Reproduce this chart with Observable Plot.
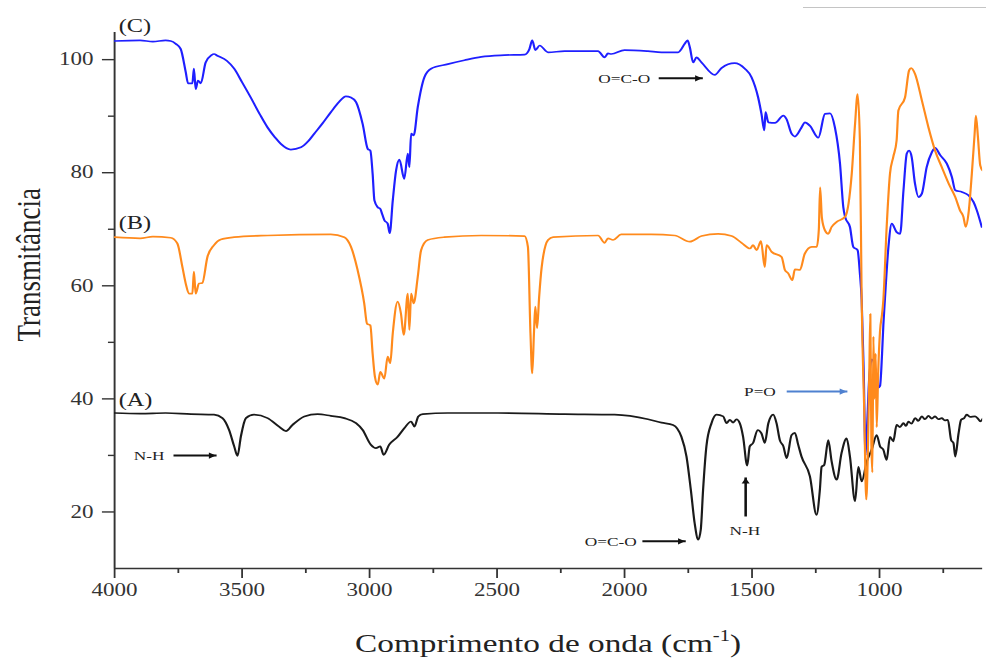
<!DOCTYPE html>
<html>
<head>
<meta charset="utf-8">
<script src="https://cdn.jsdelivr.net/npm/d3@7"></script>
<script src="https://cdn.jsdelivr.net/npm/@observablehq/plot@0.6"></script>
<style>
html, body { margin: 0; padding: 0; background: #fff; }
#chart { position: relative; width: 986px; height: 659px; overflow: hidden; }
#chart svg { position: absolute; left: 0; top: 0; transform-origin: 0 0; }
#edge { position: absolute; left: 803px; top: 7px; width: 183px; border-top: 1px solid #c4c4c4; }
</style>
</head>
<body>
<div id="chart"><div id="edge"></div></div>
<script>
// ---------- Spectrum (A) : black ----------
const waveA = [4000,3900,3800,3700,3610,3577,3551,3531,3518,3505,3485,3453,3400,3355,3328,3302,3256,3204,3152,3099,3053,3027,2995,2975,2958,2945,2923,2890,2864,2837,2824,2809,2791,2693,2497,2235,2039,1908,1855,1810,1777,1757,1740,1725,1711,1701,1692,1679,1659,1639,1613,1600,1587,1574,1561,1548,1535,1519,1509,1496,1478,1463,1450,1436,1417,1404,1391,1377,1364,1345,1332,1319,1306,1273,1247,1234,1227,1217,1201,1188,1168,1149,1129,1116,1096,1083,1070,1050,1031,1011,998,985,972,959,946,933,920,906,896,887,875,860,848,834,822,808,795,782,769,756,744,732,719,710,703,690,680,668,658,645,625,612,605,595];
const transA = [37.5,37.4,37.5,37.3,37.2,36.6,34.5,31.6,29.9,33.3,36.6,37.2,36.6,35.1,34.3,35.4,36.9,37.3,37.0,36.6,35.7,34.5,31.9,31.3,31.6,30.1,31.9,33.3,34.8,36.0,35.1,36.9,37.3,37.5,37.5,37.3,37.2,36.4,35.8,35.4,33.3,29.8,23.9,18.0,15.1,16.9,23.9,31.6,35.7,37.2,36.9,35.7,36.3,35.8,36.4,35.7,33.3,28.2,31.6,32.2,34.5,33.9,32.2,35.7,37.2,35.7,32.7,31.6,29.5,33.6,34.0,31.9,29.8,26.3,19.5,23.9,28.0,28.3,32.7,29.0,25.7,30.4,33.0,29.8,21.9,28.0,25.4,28.9,31.0,33.6,31.6,31.0,29.2,33.3,32.5,35.4,35.0,35.7,35.2,36.0,35.6,36.6,36.1,36.9,36.4,37.0,36.5,36.9,36.4,36.6,36.2,36.3,32.7,32.2,29.8,33.9,36.3,36.6,37.2,36.8,36.9,36.4,36.0,36.5];

// ---------- Spectrum (B) : orange ----------
const waveB = [4000,3900,3850,3780,3754,3734,3721,3708,3695,3689,3682,3669,3656,3636,3610,3584,3531,3400,3152,3099,3073,3047,3021,3010,2997,2988,2979,2968,2958,2942,2929,2919,2909,2890,2877,2866,2850,2844,2837,2827,2811,2798,2772,2707,2562,2392,2379,2369,2362,2355,2350,2343,2335,2325,2300,2280,2104,2078,2065,2045,2013,1895,1803,1744,1698,1633,1580,1541,1508,1496,1482,1465,1450,1443,1423,1384,1371,1358,1342,1332,1312,1293,1266,1246,1238,1233,1226,1214,1201,1188,1168,1135,1109,1096,1086,1077,1070,1060,1052,1046,1040,1036,1032,1028,1024,1020,1015,1011,1005,998,990,985,972,959,946,933,926,900,884,876,861,834,808,782,756,729,703,684,671,662,651,638,627,622,614,605,596];
const transB = [68.6,68.4,68.7,68.5,67.5,63.3,60.4,58.6,58.6,62.5,58.6,60.4,60.5,65.1,67.2,68.2,68.6,68.9,69.1,68.6,66.9,62.8,56.9,53.3,53.0,48.0,43.9,42.5,44.8,43.6,47.5,46.3,51.6,57.2,55.1,51.3,58.6,52.2,58.6,56.9,61.6,66.3,68.1,68.6,68.9,68.8,66.9,51.6,44.5,52.0,56.3,52.5,58.0,63.3,68.1,68.6,68.9,67.6,68.4,68.1,69.1,69.1,68.9,67.8,68.8,69.2,68.8,67.6,66.6,67.2,66.3,67.9,63.3,67.2,66.0,65.1,62.8,62.2,61.0,62.9,62.8,65.7,66.9,66.9,70.0,77.4,72.0,69.8,69.2,70.4,71.3,72.2,79.8,88.6,93.9,85.7,57.5,38.0,22.2,30.0,45.0,55.0,32.0,27.0,51.0,40.0,48.0,35.0,45.0,52.0,55.0,57.5,70.4,79.8,82.8,85.7,91.0,93.3,98.1,98.5,97.5,92.8,88.0,83.9,81.0,78.1,75.7,73.3,72.2,70.4,72.8,79.8,86.9,90.1,86.3,81.3,80.4];

// ---------- Spectrum (C) : blue ----------
const waveC = [4000,3900,3850,3800,3780,3760,3741,3721,3712,3695,3689,3682,3673,3662,3643,3620,3610,3597,3560,3531,3500,3466,3430,3400,3370,3348,3309,3269,3240,3217,3185,3152,3120,3093,3073,3053,3027,3007,2997,2988,2981,2968,2958,2950,2942,2929,2921,2909,2896,2883,2864,2850,2844,2837,2827,2811,2785,2759,2693,2628,2562,2471,2392,2373,2362,2350,2333,2300,2235,2104,2078,2065,2052,2000,1908,1855,1790,1764,1753,1744,1731,1718,1698,1646,1620,1594,1568,1528,1502,1476,1463,1452,1447,1436,1410,1377,1365,1345,1332,1306,1293,1273,1240,1214,1194,1175,1155,1142,1135,1116,1103,1086,1077,1070,1062,1055,1048,1040,1030,1015,1005,998,990,985,979,965,952,933,919,906,893,884,874,861,847,834,815,795,782,762,736,716,703,677,651,631,618,599];
const transC = [103.3,103.4,103.2,103.4,103.3,102.8,101.9,97.8,95.8,95.8,98.4,94.8,96.3,95.8,99.5,100.8,101.0,100.7,99.8,98.4,96.0,93.3,90.3,88.0,86.2,85.1,84.1,84.5,85.6,86.9,88.7,90.7,92.5,93.5,93.3,92.5,88.6,84.2,83.9,79.8,75.1,73.9,73.6,72.6,71.6,71.0,69.3,75.1,80.4,82.3,78.9,83.4,81.0,86.9,86.6,91.6,96.9,98.4,99.2,99.9,100.5,100.8,100.9,101.9,103.4,101.7,102.5,101.3,101.5,101.5,100.4,101.1,101.0,101.7,101.5,101.3,101.3,102.8,103.4,102.2,99.5,100.4,99.5,97.3,98.5,99.2,99.4,98.4,96.9,93.3,90.4,87.5,90.7,88.9,88.8,90.1,89.5,86.9,86.4,88.0,88.9,88.3,86.2,90.4,90.5,88.0,81.6,73.9,72.2,70.4,66.9,66.3,62.2,57.5,45.0,30.0,36.0,44.0,47.0,45.0,42.0,42.3,48.0,53.0,57.5,66.9,71.0,69.5,69.2,76.9,83.4,83.9,82.8,78.1,75.7,76.3,81.0,83.6,84.4,83.1,81.6,79.2,76.9,76.6,76.0,74.8,73.3,70.4];

// ---------- Axes ----------
const xMajorTicks = [4000, 3500, 3000, 2500, 2000, 1500, 1000];
const xMinorTicks = [3750, 3250, 2750, 2250, 1750, 1250, 750];
const yMajorTicks = [20, 40, 60, 80, 100];
const yMinorTicks = [30, 50, 70, 90];
const xDomain = [4000, 595];
const yDomain = [10, 104.8];

// ---------- Series labels ----------
const seriesNames = ["(A)", "(B)", "(C)"];
const seriesLabelWave = [3984, 3984, 3984];
const seriesLabelT = [39.8, 71.1, 105.9];

// ---------- Band annotations ----------
const bandNames = ["O=C-O", "N-H", "P=O", "O=C-O", "N-H"];
const bandTextWave = [2001, 3865, 1469, 2054, 1528];
const bandTextT = [96.6, 29.95, 41.3, 14.8, 16.7];
const arrowWave1 = [1866, 3769, 1364, 1930, 1525];
const arrowT1 = [96.7, 29.98, 41.3, 14.8, 19.2];
const arrowWave2 = [1693, 3600, 1126, 1760, 1525];
const arrowT2 = [96.7, 29.98, 41.3, 14.8, 26.1];

const toRows = (w, t) => w.map((d, i) => ({w: d, t: t[i]}));
const rowsA = toRows(waveA, transA);
const rowsB = toRows(waveB, transB);
const rowsC = toRows(waveC, transC);
const seriesLabels = seriesNames.map((n, i) => ({n, w: seriesLabelWave[i], t: seriesLabelT[i]}));
const bands = bandNames.map((n, i) => ({
  n, w: bandTextWave[i], t: bandTextT[i],
  x1: arrowWave1[i], y1: arrowT1[i], x2: arrowWave2[i], y2: arrowT2[i]
}));
const horizArrows = bands.filter(d => d.y1 === d.y2);
const vertArrows = bands.filter(d => d.y1 !== d.y2);

const STRETCH = 1.2805;          // picture is horizontally stretched
const W = 770, H = 659;
const serif = "'Liberation Serif','Times New Roman',Times,serif";
const arrowColor = d => d.n === "P=O" ? "#4f81d0" : "#111";

const plot = Plot.plot({
  width: W,
  height: H,
  marginLeft: 89,
  marginRight: 3,
  marginTop: 32,
  marginBottom: 91,
  style: {fontFamily: serif, color: "#333", background: "transparent", overflow: "visible"},
  x: {domain: xDomain},
  y: {domain: yDomain},
  marks: [
    Plot.axisX({ticks: xMajorTicks, tickSize: 10, tickPadding: 5, tickFormat: d => String(d), fontSize: 18, label: null, strokeWidth: 1.4}),
    Plot.axisX({ticks: xMinorTicks, tickSize: 5, tickFormat: () => "", label: null, strokeWidth: 1.4}),
    Plot.axisY({ticks: yMajorTicks, tickSize: 9.4, tickPadding: 7, fontSize: 18, label: null, strokeWidth: 1.4}),
    Plot.axisY({ticks: yMinorTicks, tickSize: 4.7, tickFormat: () => "", label: null, strokeWidth: 1.4}),
    Plot.ruleY([yDomain[0]], {stroke: "#333", strokeWidth: 1.5}),
    Plot.ruleX([xDomain[0]], {stroke: "#333", strokeWidth: 1.5}),
    Plot.line(rowsA, {x: "w", y: "t", stroke: "#1a1a1a", strokeWidth: 1.7, curve: "monotone-x", clip: true}),
    Plot.line(rowsC, {x: "w", y: "t", stroke: "#1f1fff", strokeWidth: 1.7, curve: "monotone-x", clip: true}),
    Plot.line(rowsB, {x: "w", y: "t", stroke: "#ff8a1c", strokeWidth: 1.7, curve: "monotone-x", clip: true}),
    Plot.text(seriesLabels, {x: "w", y: "t", text: "n", textAnchor: "start", fontSize: 19, fill: "#222"}),
    Plot.text(bands, {x: "w", y: "t", text: "n", fontSize: 13.5, fill: "#222"}),
    Plot.link(bands, {x1: "x1", y1: "y1", x2: "x2", y2: "y2", stroke: arrowColor, strokeWidth: 2}),
    Plot.dot(horizArrows, {x: "x2", y: "y2", symbol: "triangle2", r: 3, rotate: 90, dx: -4.2, fill: arrowColor, stroke: "none"}),
    Plot.dot(vertArrows, {x: "x2", y: "y2", symbol: "triangle2", r: 3, rotate: 0, dy: 4.2, fill: arrowColor, stroke: "none"}),
    Plot.text(["Transmitância"], {frameAnchor: "left", rotate: -90, dx: -67, dy: 41, fontSize: 27, fill: "#222"})
  ]
});

plot.style.transform = `scaleX(${STRETCH})`;

// x axis title with superscript
const xt = d3.select(plot).append("text")
  .attr("x", (89 + (W - 3)) / 2)
  .attr("y", 652)
  .attr("text-anchor", "middle")
  .attr("font-family", serif)
  .attr("font-size", 26)
  .attr("fill", "#222");
xt.append("tspan").text("Comprimento de onda (cm");
xt.append("tspan").attr("font-size", 16).attr("dy", -11).text("-1");
xt.append("tspan").attr("dy", 11).text(")");

document.getElementById("chart").appendChild(plot);
</script>
</body>
</html>
